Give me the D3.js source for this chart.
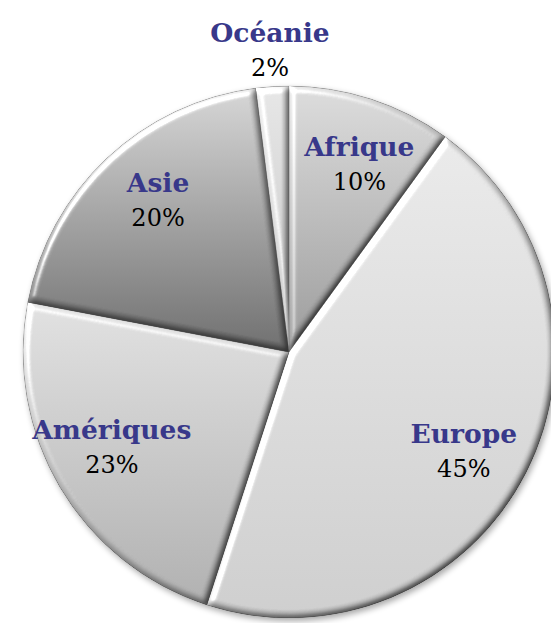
<!DOCTYPE html>
<html>
<head>
<meta charset="utf-8">
<script src="https://cdn.jsdelivr.net/npm/d3@7"></script>
<style>
  html, body { margin: 0; padding: 0; background: #fff; }
  svg { display: block; }
</style>
</head>
<body>
<div id="pie-chart"></div>
<script>
// data: share of each region, clockwise from 12 o'clock
const regions = ["Afrique", "Europe", "Amériques", "Asie", "Océanie"]
const shares = [10, 45, 23, 20, 2]

// light / dark ends of the vertical gradient of each slice
const lightShades = ["#d4d4d4", "#e2e2e2", "#d9d9d9", "#cecece", "#dedede"]
const darkShades = ["#939393", "#c6c6c6", "#a8a8a8", "#676767", "#bdbdbd"]

const width = 551, height = 623
const cx = 289, cy = 352
const radius = 266

let svg = d3.select("#pie-chart").append("svg")
    .attr("width", width)
    .attr("height", height)

let defs = svg.append("defs")

// bevel: blurred alpha used as a bump map, light from the top left
let bevel = defs.append("filter")
    .attr("id", "bevel")
    .attr("x", "-10%").attr("y", "-10%")
    .attr("width", "120%").attr("height", "120%")
    .attr("color-interpolation-filters", "sRGB")
bevel.append("feGaussianBlur")
    .attr("in", "SourceAlpha").attr("stdDeviation", 3.2).attr("result", "blur")
let diffuse = bevel.append("feDiffuseLighting")
    .attr("in", "blur").attr("surfaceScale", 3).attr("diffuseConstant", 1)
    .attr("lighting-color", "#fff").attr("result", "diff")
diffuse.append("feDistantLight").attr("azimuth", 225).attr("elevation", 55)
bevel.append("feComposite")
    .attr("in", "SourceGraphic").attr("in2", "diff")
    .attr("operator", "arithmetic")
    .attr("k1", 1 / Math.sin(55 * Math.PI / 180)).attr("k2", 0).attr("k3", 0).attr("k4", 0)
    .attr("result", "shaded")
let spec = bevel.append("feSpecularLighting")
    .attr("in", "blur").attr("surfaceScale", 4).attr("specularConstant", 0.8)
    .attr("specularExponent", 35).attr("lighting-color", "#fff").attr("result", "spec")
spec.append("feDistantLight").attr("azimuth", 225).attr("elevation", 45)
bevel.append("feComposite")
    .attr("in", "spec").attr("in2", "SourceAlpha").attr("operator", "in").attr("result", "specIn")
bevel.append("feComposite")
    .attr("in", "shaded").attr("in2", "specIn")
    .attr("operator", "arithmetic")
    .attr("k1", 0).attr("k2", 1).attr("k3", 0.7).attr("k4", 0)
    .attr("result", "lit")
bevel.append("feComposite")
    .attr("in", "lit").attr("in2", "SourceAlpha").attr("operator", "in")

// soft shadow under the whole pie
let shadow = defs.append("filter")
    .attr("id", "shadow")
    .attr("x", "-10%").attr("y", "-10%")
    .attr("width", "120%").attr("height", "120%")
shadow.append("feGaussianBlur").attr("in", "SourceAlpha").attr("stdDeviation", 3)
shadow.append("feOffset").attr("dx", 2).attr("dy", 3)
shadow.append("feComponentTransfer")
    .append("feFuncA").attr("type", "linear").attr("slope", 0.35)

let data = regions.map((r, i) => ({ region: r, share: shares[i] }))

let lightColor = d3.scaleOrdinal().domain(regions).range(lightShades)
let darkColor = d3.scaleOrdinal().domain(regions).range(darkShades)

data.forEach((d, i) => {
    let grad = defs.append("linearGradient")
        .attr("id", "grad-" + i)
        .attr("x1", 0).attr("y1", 0).attr("x2", 0).attr("y2", 1)
    grad.append("stop").attr("offset", "0%").attr("stop-color", lightColor(d.region))
    grad.append("stop").attr("offset", "100%").attr("stop-color", darkColor(d.region))
})

let pie = d3.pie()
    .value(d => d.share)
    .sort(null)

let arc = d3.arc()
    .innerRadius(0)
    .outerRadius(radius)

// labels inside the big slices (nudged a little clockwise, like the
// reference's best-fit placement), outside for the tiny one
let labelTurn = 2.5 * Math.PI / 180
let insideLabel = d3.arc()
    .innerRadius(radius * 0.755)
    .outerRadius(radius * 0.755)
let outsideLabel = d3.arc()
    .innerRadius(radius + 37)
    .outerRadius(radius + 37)

let arcs = pie(data)

let g = svg.append("g")
    .attr("transform", "translate(" + cx + "," + cy + ")")

g.append("circle")
    .attr("r", radius)
    .attr("fill", "#888")
    .attr("filter", "url(#shadow)")

g.selectAll(".slice")
    .data(arcs)
    .enter().append("path")
    .attr("class", "slice")
    .attr("d", arc)
    .attr("fill", (d, i) => "url(#grad-" + i + ")")
    .attr("stroke", "#6a6a6a")
    .attr("stroke-width", 0.45)
    .attr("filter", "url(#bevel)")

let labels = g.selectAll(".label")
    .data(arcs)
    .enter().append("g")
    .attr("class", "label")
    .attr("transform", d => {
        let pos
        if (d.data.share < 5) {
            pos = outsideLabel.centroid(d)
        } else {
            pos = insideLabel.centroid({
                startAngle: d.startAngle + labelTurn,
                endAngle: d.endAngle + labelTurn
            })
        }
        return "translate(" + pos + ")"
    })
    .attr("text-anchor", "middle")
    .style("font-family", "'DejaVu Serif', serif")

labels.append("text")
    .attr("y", -8)
    .style("font-size", "26.5px")
    .style("font-weight", "bold")
    .attr("fill", "#38388a")
    .text(d => d.data.region)

labels.append("text")
    .attr("y", 26)
    .style("font-size", "24px")
    .attr("fill", "#000")
    .text(d => d.data.share + "%")
</script>
</body>
</html>
